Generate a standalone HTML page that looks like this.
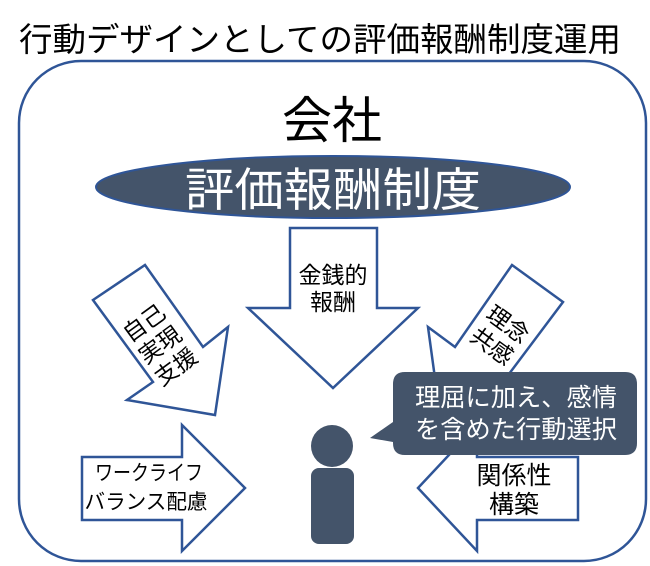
<!DOCTYPE html>
<html><head><meta charset="utf-8"><style>
html,body{margin:0;padding:0;background:#fff;}
body{width:650px;height:566px;overflow:hidden;position:relative;font-family:"Liberation Sans","Noto Sans CJK JP",sans-serif;}
svg{position:absolute;left:0;top:0;}
text{font-family:"Liberation Sans","Noto Sans CJK JP",sans-serif;}
</style></head><body>
<svg width="650" height="566" viewBox="0 0 650 566">
<text x="320" y="51" font-size="33" text-anchor="middle" fill="#000" textLength="602" lengthAdjust="spacingAndGlyphs">行動デザインとしての評価報酬制度運用</text>
<rect x="19" y="61" width="627" height="500" rx="62" ry="62" fill="#fff" stroke="#2f5597" stroke-width="2.5"/>
<text x="332" y="138" font-size="50" text-anchor="middle" fill="#000">会社</text>
<ellipse cx="333" cy="187" rx="237" ry="31" fill="#44546a" stroke="#2f5597" stroke-width="2"/>
<text x="333" y="206" font-size="46" text-anchor="middle" fill="#fff" textLength="296" lengthAdjust="spacingAndGlyphs">評価報酬制度</text>
<polygon points="290,228 377,228 377,308 418,308 333,388 248,308 290,308" fill="#fff" stroke="#2f5597" stroke-width="2.5"/>
<text x="333" y="283" font-size="23" text-anchor="middle">金銭的</text>
<text x="333" y="310" font-size="23" text-anchor="middle">報酬</text>
<polygon points="93,300 145,265 203,347 228,327 215,415 127,400 153,382" fill="#fff" stroke="#2f5597" stroke-width="2.5"/>
<g transform="translate(160,345) rotate(-36)" font-size="23" text-anchor="middle">
<text x="0" y="-19">自己</text><text x="0" y="8">実現</text><text x="0" y="35">支援</text></g>
<polygon points="563,302 512,265 455,347 428,327 440,415 528,400 503,382" fill="#fff" stroke="#2f5597" stroke-width="2.5"/>
<g transform="translate(500,335) rotate(36)" font-size="23" text-anchor="middle">
<text x="0" y="-5">理念</text><text x="0" y="22">共感</text></g>
<polygon points="82,457 182,457 182,425 245,488 182,551 182,520 82,520" fill="#fff" stroke="#2f5597" stroke-width="2.5"/>
<text x="149" y="480" font-size="21" text-anchor="middle" textLength="108" lengthAdjust="spacingAndGlyphs">ワークライフ</text>
<text x="146" y="509" font-size="21" text-anchor="middle" textLength="123" lengthAdjust="spacingAndGlyphs">バランス配慮</text>
<polygon points="578,457 477,457 477,425 418,488 477,551 477,520 578,520" fill="#fff" stroke="#2f5597" stroke-width="2.5"/>
<text x="514" y="484" font-size="25" text-anchor="middle">関係性</text>
<text x="514" y="513" font-size="25" text-anchor="middle">構築</text>
<path d="M405,372 H625 Q637,372 637,384 V443 Q637,455 625,455 H405 Q393,455 393,443 V442 L370,438 L393,422 V384 Q393,372 405,372 Z" fill="#44546a"/>
<text x="516" y="406" font-size="25" text-anchor="middle" fill="#fff" textLength="202" lengthAdjust="spacingAndGlyphs">理屈に加え、感情</text>
<text x="516" y="438" font-size="25" text-anchor="middle" fill="#fff" textLength="202" lengthAdjust="spacingAndGlyphs">を含めた行動選択</text>
<circle cx="332" cy="446" r="21" fill="#44546a"/>
<rect x="311" y="468" width="43" height="76" rx="8" fill="#44546a"/>
</svg>
</body></html>
